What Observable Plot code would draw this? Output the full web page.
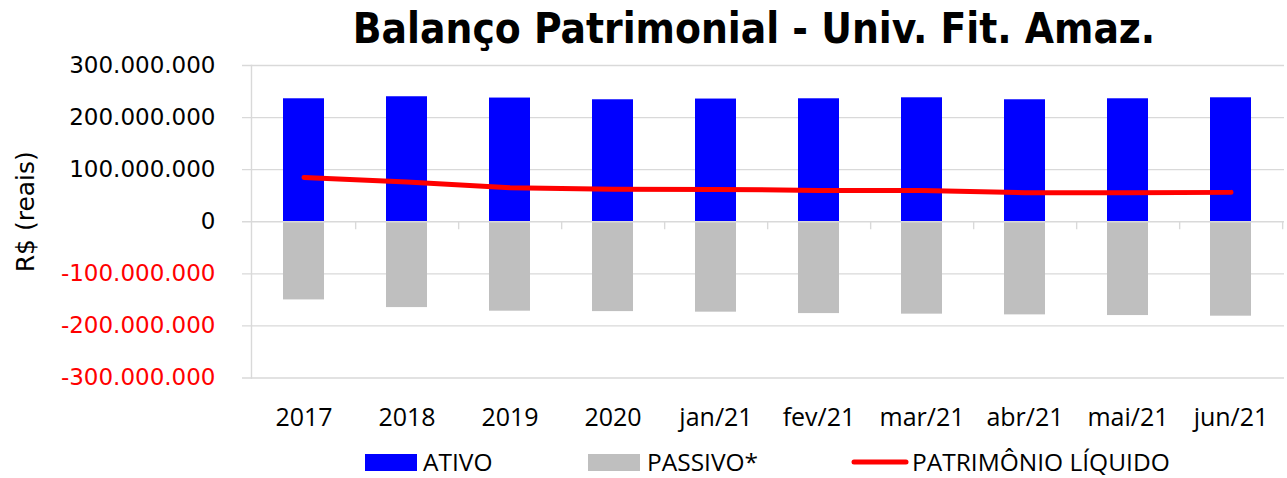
<!DOCTYPE html>
<html>
<head>
<meta charset="utf-8">
<script src="https://cdn.jsdelivr.net/npm/d3@7"></script>
<script src="https://cdn.jsdelivr.net/npm/@observablehq/plot@0.6"></script>
<style>
  html, body { margin: 0; padding: 0; background: #fff; }
  #wrap { position: relative; width: 1287px; height: 478px; overflow: hidden; }
  #title {
    position: absolute; left: 754px; top: 8px; transform: translateX(-50%);
    white-space: nowrap; font-family: "DejaVu Sans Condensed", "DejaVu Sans", sans-serif;
    font-stretch: condensed; font-weight: bold; font-size: 42px; line-height: 42px; color: #000;
  }
  #chart { position: absolute; left: 0; top: 55px; }
  #legend { position: absolute; left: 0; top: 438px; }
</style>
</head>
<body>
<div id="wrap">
  <div id="title">Balanço Patrimonial - Univ. Fit. Amaz.</div>
  <div id="chart"></div>
  <svg id="legend" width="1287" height="40"></svg>
</div>
<script>
// ---- data ----
const categories = ["2017", "2018", "2019", "2020", "jan/21", "fev/21", "mar/21", "abr/21", "mai/21", "jun/21"];
const ativo = [236100000, 240000000, 237500000, 234200000, 235600000, 236100000, 238000000, 234200000, 236100000, 238000000];
const passivo = [-150100000, -164800000, -171700000, -172500000, -173600000, -176300000, -177400000, -178800000, -180100000, -181300000];
const patrimonioLiquido = [85100000, 76500000, 65400000, 62500000, 62100000, 60200000, 59800000, 55800000, 55800000, 56400000];
const yTicks = [-300000000, -200000000, -100000000, 0, 100000000, 200000000, 300000000];
const seriesNames = ["ATIVO", "PASSIVO*", "PATRIMÔNIO LÍQUIDO"];
const yLabel = "R$ (reais)";

const rows = categories.map((c, i) => ({cat: c, ativo: ativo[i], passivo: passivo[i], pl: patrimonioLiquido[i]}));

const ptBR = d3.formatLocale({decimal: ",", thousands: ".", grouping: [3], currency: ["R$", ""], minus: "-"});
const fmt = ptBR.format(",");

const W = 1287, H = 380;
const mL = 251, mR = 3, mT = 10, mB = 57.5;
const step = (W - mL - mR) / categories.length;
const gridColor = "#d9d9d9";

const plot = Plot.plot({
  width: W,
  height: H,
  marginLeft: mL,
  marginRight: mR,
  marginTop: mT,
  marginBottom: mB,
  style: {background: "#fff", overflow: "visible"},
  x: {domain: categories, paddingInner: 0.6, paddingOuter: 0.3, axis: null},
  y: {domain: [-300000000, 300000000], axis: null},
  marks: [
    Plot.ruleY(yTicks.filter(d => d !== 0), {y: d => d, stroke: gridColor, strokeWidth: 1.4, insetLeft: -9}),
    Plot.frame({anchor: "left", stroke: gridColor, strokeWidth: 1.4}),
    Plot.barY(rows, {x: "cat", y: "ativo", fill: "#0000ff"}),
    Plot.barY(rows, {x: "cat", y: "passivo", fill: "#bfbfbf"}),
    Plot.ruleY([0], {stroke: gridColor, strokeWidth: 1.4, insetLeft: -9}),
    Plot.ruleX(categories, {x: d => d, y1: 0, y2: 0, insetBottom: -8, dx: step / 2, stroke: gridColor, strokeWidth: 1.4}),
    Plot.line(rows, {x: "cat", y: "pl", stroke: "#ff0000", strokeWidth: 5, strokeLinecap: "round", strokeLinejoin: "round"}),
    Plot.text(yTicks, {
      y: d => d, text: d => fmt(d), frameAnchor: "left", textAnchor: "end", dx: -36,
      lineAnchor: "middle", fill: d => d < 0 ? "#ff0000" : "#000000",
      fontSize: 23, fontFamily: "DejaVu Sans, sans-serif"
    }),
    Plot.text(categories, {
      x: d => d, text: d => d, frameAnchor: "bottom", lineAnchor: "bottom", dy: 47.5,
      fontSize: 25, fontFamily: "Open Sans, sans-serif", fill: "#000"
    }),
    Plot.text([yLabel], {
      text: d => d, frameAnchor: "left", textAnchor: "middle", lineAnchor: "middle",
      dx: -226, dy: -10, rotate: -90,
      fontSize: 25, fontFamily: "DejaVu Sans, sans-serif", fill: "#000"
    })
  ]
});
document.getElementById("chart").appendChild(plot);

// ---- legend ----
const lg = d3.select("#legend");
const lgFont = "Open Sans, sans-serif";
const base = 33;
lg.append("rect").attr("x", 365).attr("y", base - 17).attr("width", 52).attr("height", 17).attr("fill", "#0000ff");
lg.append("text").attr("x", 423).attr("y", base).attr("font-family", lgFont).attr("font-size", 24.5).text(seriesNames[0]);
lg.append("rect").attr("x", 588).attr("y", base - 17).attr("width", 52).attr("height", 17).attr("fill", "#bfbfbf");
lg.append("text").attr("x", 647).attr("y", base).attr("font-family", lgFont).attr("font-size", 24.5).text(seriesNames[1]);
lg.append("line").attr("x1", 854).attr("x2", 906).attr("y1", base - 9).attr("y2", base - 9)
  .attr("stroke", "#ff0000").attr("stroke-width", 5).attr("stroke-linecap", "round");
lg.append("text").attr("x", 912).attr("y", base).attr("font-family", lgFont).attr("font-size", 24.5).text(seriesNames[2]);
</script>
</body>
</html>
